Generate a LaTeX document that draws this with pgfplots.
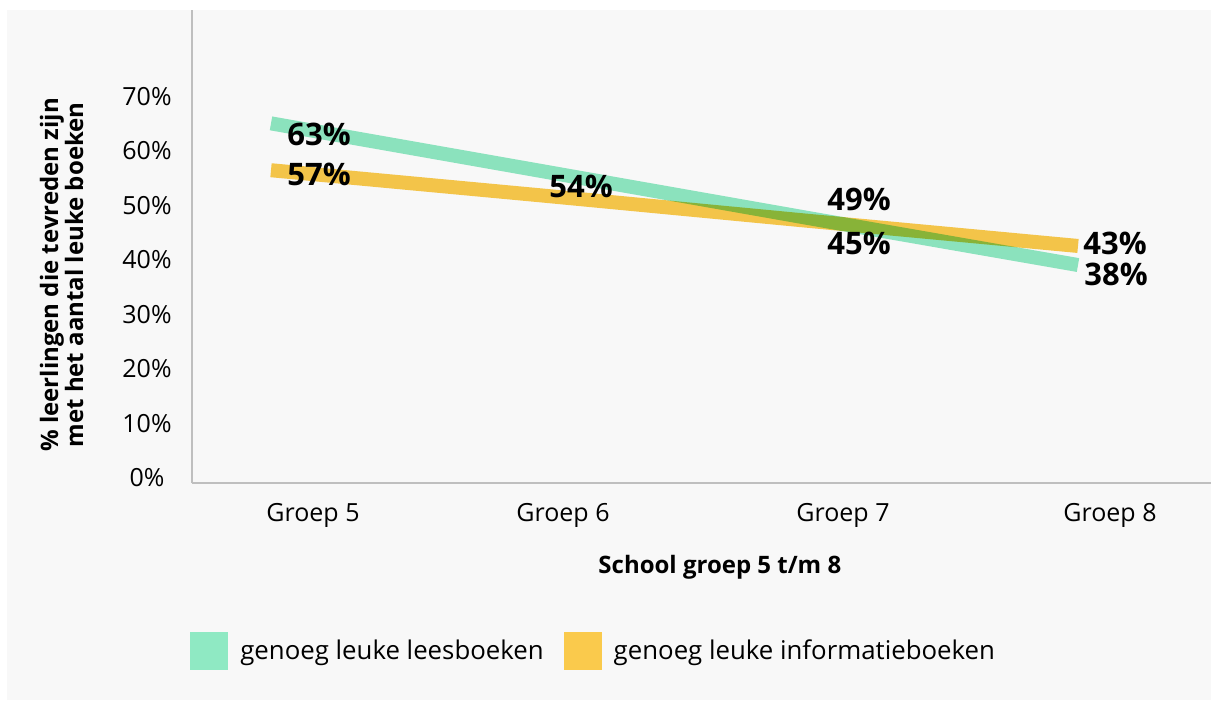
\documentclass[border=0pt]{standalone}
\usepackage{fontspec}
\setmainfont{Open Sans}
\usepackage{pgfplots}
\usepackage{pgfplotstable}
\pgfplotsset{compat=1.18}
\definecolor{leesgroen}{HTML}{8FE9C3}
\definecolor{infogeel}{HTML}{FACA4C}
\definecolor{paneel}{HTML}{F8F8F8}
\definecolor{aslijn}{HTML}{BFBFBF}

% x in beeldpunten van het origineel, y in procent
\pgfplotstableread{
x y
271 65.0
540 56.3
809 47.6
1078 39.0
}\leesboeken

\pgfplotstableread{
x y
271 56.4
540 51.8
809 47.1
1078 42.5
}\infoboeken

% plaats van de datalabels (linkerkant van de tekst)
\pgfplotstableread{
x y v
287 63.0 63
287 55.6 57
549 53.4 54
827 51.1 49
827 43.0 45
1083 43.0 43
1084 37.2 38
}\labels

\begin{document}
\begin{tikzpicture}
\fill[white] (-96pt,-113pt) rectangle (509.5pt,241.5pt);
\fill[paneel] (-92.5pt,-108.5pt) rectangle (509.5pt,236.5pt);
\begin{axis}[
  scale only axis, width=509.5pt, height=236.5pt,
  at={(0,0)}, anchor=south west,
  xmin=192, xmax=1211, ymin=-1, ymax=85.8,
  axis x line=bottom, axis y line=left,
  axis line style={aslijn, line width=0.6pt, -},
  xtick={313,563,843,1110},
  xticklabels={Groep 5,Groep 6,Groep 7,Groep 8},
  ytick={0,10,...,70},
  yticklabels={0\%,10\%,20\%,30\%,40\%,50\%,60\%,70\%},
  major tick length=0pt,
  tick label style={font=\fontsize{12.5}{14}\selectfont, text=black},
  xticklabel style={anchor=center, yshift=-16pt},
  yticklabel style={anchor=center, xshift=-22.5pt},
  xlabel={School groep 5 t/m 8},
  xlabel style={at={(axis description cs:0.518,-0.1776)}, anchor=center,
    font=\bfseries\fontsize{12}{14}\selectfont},
  ylabel={\% leerlingen die tevreden zijn\\met het aantal leuke boeken},
  ylabel style={at={(axis description cs:-0.128,0.44)}, anchor=center,
    align=center, font=\bfseries\fontsize{12}{12.5}\selectfont},
  legend style={draw=none, fill=none, at={(axis description cs:-0.002,-0.355)},
    anchor=west, legend columns=2, inner sep=0pt,
    font=\fontsize{12.9}{15}\selectfont,
    nodes={inner sep=0pt, outer sep=0pt},
    /tikz/every odd column/.append style={column sep=6pt},
    /tikz/every even column/.append style={column sep=10pt}},
  legend image code/.code={\fill[#1, draw=none, blend mode=normal] (0pt,-9.5pt) rectangle (19pt,9.5pt);},
]
\addplot[leesgroen, line width=7pt, blend mode=multiply] table[x=x,y=y]{\leesboeken};
\addlegendentry{genoeg leuke leesboeken}
\addplot[infogeel, line width=7pt, blend mode=multiply] table[x=x,y=y]{\infoboeken};
\addlegendentry{genoeg leuke informatieboeken}
\addplot[draw=none, mark=none, forget plot, nodes near coords,
  point meta=explicit symbolic,
  nodes near coords={\pgfplotspointmeta\%},
  every node near coord/.append style={anchor=west, inner sep=0pt,
    font=\bfseries\fontsize{15.5}{18}\selectfont, text=black}]
  table[x=x,y=y,meta=v]{\labels};
\end{axis}
\pgfresetboundingbox
\path[use as bounding box] (-96pt,-113pt) rectangle (509.5pt,241.5pt);
\end{tikzpicture}
\end{document}
